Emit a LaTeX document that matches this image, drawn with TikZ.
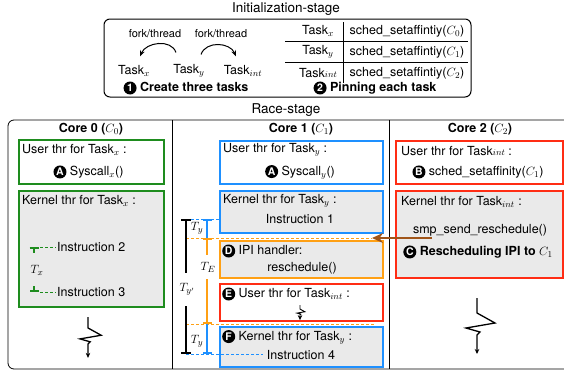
\documentclass[tikz,border=0pt]{standalone}
\usepackage[no-math]{fontspec}
\setmainfont{TeX Gyre Heros}
\usepackage{amsmath}
\usetikzlibrary{calc, arrows.meta, positioning}

\definecolor{thrgreen}{RGB}{30,140,30}
\definecolor{thrblue}{RGB}{30,144,255}
\definecolor{thrred}{RGB}{255,45,20}
\definecolor{throrange}{RGB}{255,160,20}
\definecolor{ipibrown}{RGB}{160,85,25}
\definecolor{thrgray}{RGB}{234,234,234}

% marca circular negra con letra blanca
\newcommand{\stepmark}[1]{\tikz[baseline=(mk.base)]\node[circle, fill=black, text=white, inner sep=0pt, minimum size=13pt, font=\bfseries\fontsize{10.5}{10.5}\selectfont] (mk) {#1};}

\tikzset{zapdown/.pic={
    \draw[-{Stealth[length=5pt, width=4.5pt]}] (0,0) -- (0,15) -- (18,25) -- (-11,30) -- (3,34) -- (0,37) -- (0,56);
}}

\begin{document}
\begin{tikzpicture}[x=1pt, y=-1pt, >=Stealth, font=\fontsize{12.5}{14}\selectfont]
        % Estilos
        \tikzstyle{stagetitle} = [inner sep=1pt, font=\fontsize{13.5}{15}\selectfont]
        \tikzstyle{lbl} = [inner sep=1pt]
        \tikzstyle{boldlbl} = [inner sep=1pt, font=\bfseries\fontsize{12.5}{14}\selectfont]
        \tikzstyle{thrbox} = [draw, rectangle, line width=2pt, inner sep=0pt]
        \tikzstyle{kbox} = [thrbox, fill=thrgray]
        \tikzstyle{midbox} = [minimum width=163pt]
        \tikzstyle{timelbl} = [inner sep=0pt]
        \tikzstyle{tbar} = [line width=2pt]
        \tikzstyle{guide} = [line width=1pt, dash pattern=on 3pt off 2pt]
        \tikzstyle{forkarrow} = [-{Stealth[length=6pt, width=5pt]}, line width=1pt]
        \tikzstyle{ipiarrow} = [-{Stealth[length=11pt, width=10pt]}, line width=2.5pt, ipibrown]
        \tikzstyle{zapline} = [line width=1.3pt]

        \useasboundingbox (0,0) rectangle (564,372);

        % Etapa de inicializacion
        \node[stagetitle] (initTitle) at (286,9) {Initialization-stage};
        \node[draw, rounded corners=6pt, line width=1pt, inner sep=0pt, minimum width=367pt, minimum height=78pt] (initBox) at (287.5,58) {};
        \node[lbl, font=\fontsize{11}{12}\selectfont] (forkLeft) at (155,34) {fork/thread};
        \node[lbl, font=\fontsize{11}{12}\selectfont] (forkRight) at (221,34) {fork/thread};
        \node[lbl] (taskX) at (134,71) {Task$_x$};
        \node[lbl] (taskY) at (189,71) {Task$_y$};
        \node[lbl] (taskInt) at (243,71) {Task$_{int}$};
        \node[boldlbl] (createStep) at (186,88) {\stepmark{1} Create three tasks};

        \draw[forkarrow] ([shift={(-13,-11)}]taskY.north) .. controls +(-5,-14) and +(6,-14) .. ([shift={(6,-8)}]taskX.north);
        \draw[forkarrow] ([shift={(12,-9)}]taskY.north) .. controls +(5,-14) and +(-6,-14) .. ([shift={(-7,-8)}]taskInt.north);

        % Tabla de afinidad
        \node[lbl] (tblTaskX) at (318,31) {Task$_x$};
        \node[lbl] (tblAffX) at (407,31) {sched\_setaffintiy($C_0$)};
        \node[lbl] (tblTaskY) at (318,52) {Task$_y$};
        \node[lbl] (tblAffY) at (407,52) {sched\_setaffintiy($C_1$)};
        \node[lbl] (tblTaskInt) at (318,73) {Task{$\scriptstyle int$}};
        \node[lbl] (tblAffInt) at (407,73) {sched\_setaffintiy($C_2$)};
        \draw[line width=1pt] (285,41.5) -- (468,41.5);
        \draw[line width=1pt] (285,62.5) -- (468,62.5);
        \draw[line width=0.8pt] (343,22) -- (343,83);
        \node[boldlbl] (pinStep) at (375,88) {\stepmark{2} Pinning each task};

        % Etapa de carrera
        \node[stagetitle] (raceTitle) at (286,110) {Race-stage};
        \draw[line width=0.8pt, rounded corners=6pt] (580,120) -- (8,120) -- (8,369) -- (580,369);
        \draw[line width=0.8pt] (172,120) -- (172,369);
        \draw[line width=0.8pt] (389,120) -- (389,369);

        \node[boldlbl] (core0) at (91,129) {Core 0 ($C_0$)};
        \node[boldlbl] (core1) at (301,129) {Core 1 ($C_1$)};
        \node[boldlbl] (core2) at (480,129) {Core 2 ($C_2$)};

        % Nucleo 0
        \node[thrbox, draw=thrgreen, minimum width=145pt, minimum height=44pt] (userX) at (91.5,162) {};
        \node[kbox, draw=thrgreen, minimum width=145pt, minimum height=116pt, below=5pt of userX] (kernelX) {};
        \node[lbl, anchor=west] (userXhead) at ([shift={(3,11)}]userX.north west) {User thr for Task$_x$ :};
        \node[lbl] (syscallX) at ([shift={(-3,10)}]userX.center) {\stepmark{A} Syscall$_x$()};
        \node[lbl, anchor=west] (kernelXhead) at ([shift={(3,11)}]kernelX.north west) {Kernel thr for Task$_x$ :};
        \node[lbl, anchor=west] (instr2) at (56,247) {Instruction 2};
        \node[lbl, anchor=west] (instr3) at (56,292) {Instruction 3};
        \node[timelbl] (txLbl) at (37,270) {$T_x$};
        \coordinate (txTop) at (34,247);
        \coordinate (txBot) at (34,292);
        \draw[tbar, thrgreen, {Bar[width=9pt]}-] (txTop) -- ++(0,6);
        \draw[tbar, thrgreen, -{Bar[width=9pt]}] ([yshift=6pt]txBot) -- (txBot);
        \draw[guide, thrgreen] ([xshift=6pt]txTop) -- (instr2);
        \draw[guide, thrgreen] ([xshift=6pt]txBot) -- (instr3);
        \pic[zapline, scale=0.73] at (88,317) {zapdown};

        % Nucleo 1
        \node[thrbox, midbox, draw=thrblue, minimum height=43pt] (userY) at (301.5,162.5) {};
        \node[kbox, midbox, draw=thrblue, minimum height=42pt, below=5pt of userY] (kernelY) {};
        \node[kbox, midbox, draw=throrange, minimum height=37pt, below=6pt of kernelY] (ipiD) {};
        \node[thrbox, midbox, draw=thrred, minimum height=37pt, below=4pt of ipiD] (userIntE) {};
        \node[kbox, midbox, draw=thrblue, minimum height=40pt, below=4pt of userIntE] (kernelYF) {};
        \node[lbl, anchor=west] (userYhead) at ([shift={(3,10)}]userY.north west) {User thr for Task$_y$ :};
        \node[lbl] (syscallY) at ([shift={(-1.5,9.5)}]userY.center) {\stepmark{A} Syscall$_y$()};
        \node[lbl, anchor=west] (kernelYhead) at ([shift={(3,11)}]kernelY.north west) {Kernel thr for Task$_y$ :};
        \node[lbl] (instr1) at ([shift={(-1.5,7)}]kernelY.center) {Instruction 1};
        \node[lbl, anchor=west] (ipiHead) at ([shift={(2,11)}]ipiD.north west) {\stepmark{D} IPI handler:};
        \node[lbl] (resched) at ([shift={(0.5,8.5)}]ipiD.center) {reschedule()};
        \node[lbl, anchor=west] (userEhead) at ([shift={(2,11)}]userIntE.north west) {\stepmark{E} User thr for Task$_{int}$ :};
        \node[lbl, anchor=west] (kernelFhead) at ([shift={(2,11)}]kernelYF.north west) {\stepmark{F} Kernel thr for Task$_y$ :};
        \node[lbl] (instr4) at ([shift={(-0.5,8)}]kernelYF.center) {Instruction 4};
        \pic[line width=0.9pt, scale=0.27] at (300,305) {zapdown};

        % Nucleo 2
        \node[thrbox, draw=thrred, minimum width=167pt, minimum height=43pt] (userInt) at (479.5,162.5) {};
        \node[kbox, draw=thrred, minimum width=167pt, minimum height=87pt, below=5pt of userInt] (kernelInt) {};
        \node[lbl, anchor=west] (userIntHead) at ([shift={(5,11)}]userInt.north west) {User thr for Task{$\scriptstyle int$} :};
        \node[lbl] (setAff) at ([shift={(-1.5,9.5)}]userInt.center) {\stepmark{B} sched\_setaffinity($C_1$)};
        \node[lbl, anchor=west] (kernelIntHead) at ([shift={(5,12)}]kernelInt.north west) {Kernel thr for Task$_{int}$ :};
        \node[lbl] (smpSend) at ([shift={(0.5,-4.5)}]kernelInt.center) {smp\_send\_reschedule()};
        \node[boldlbl] (reschedIpi) at ([shift={(-1.5,17.5)}]kernelInt.center) {\stepmark{C} Rescheduling IPI to $C_1$};
        \pic[zapline, scale=1] at (477,298) {zapdown};

        % Intervalos de tiempo en el nucleo 1
        \coordinate (tpTop) at (186,219);
        \coordinate (tpBot) at (186,354);
        \coordinate (tyTop) at (207,219);
        \coordinate (ipiMark) at (207,238);
        \coordinate (eMark) at (207,324);
        \coordinate (tyBot) at (207,354);
        \coordinate (ipiSrc) at (432,238);
        \coordinate (ipiTip) at (372,238);
        \coordinate (eDashEnd) at (375,324);
        \coordinate (tyDashEnd) at (263,354);
        \node[timelbl, minimum height=33pt] (tpLbl) at (187,289.5) {$T_{y'}$};
        \node[timelbl] (tyLblUp) at (197,228) {$T_y$};
        \node[timelbl, minimum height=24pt] (teLbl) at (208,267) {$T_E$};
        \node[timelbl] (tyLblLow) at (197,341) {$T_y$};

        \draw[guide, thrblue] (tpTop) -- (tpTop -| kernelY.west);
        \draw[guide, throrange] (tpTop |- ipiMark) -- (ipiTip);
        \draw[guide, throrange] (tpTop |- eMark) -- (eDashEnd);
        \draw[guide, thrblue] (tpBot) -- (tyDashEnd);

        \draw[tbar, {Bar[width=10pt]}-] (tpTop) -- (tpTop |- tpLbl.north);
        \draw[tbar, -{Bar[width=10pt]}] (tpBot |- tpLbl.south) -- (tpBot);
        \draw[tbar, thrblue, {Bar[width=9pt]}-] (tyTop) -- (ipiMark);
        \draw[tbar, throrange, {Bar[width=9pt]}-] (ipiMark) -- (ipiMark |- teLbl.north);
        \draw[tbar, throrange, -{Bar[width=9pt]}] (eMark |- teLbl.south) -- (eMark);
        \draw[tbar, thrblue, -{Bar[width=9pt]}] (eMark) -- (tyBot);

        % IPI de reprogramacion
        \draw[ipiarrow] (ipiSrc) -- (ipiTip);
\end{tikzpicture}
\end{document}
